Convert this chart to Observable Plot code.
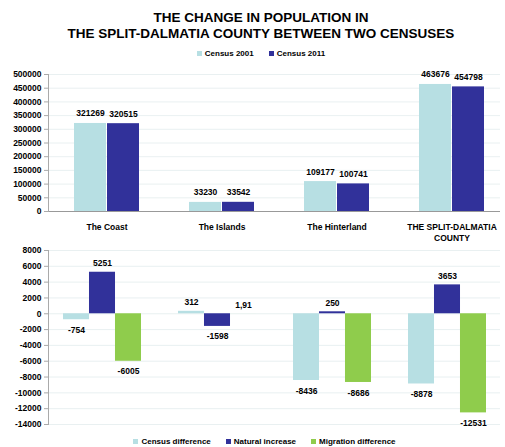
<!DOCTYPE html>
<html>
<head>
<meta charset="utf-8">
<script src="https://cdn.jsdelivr.net/npm/d3@7"></script>
<script src="https://cdn.jsdelivr.net/npm/@observablehq/plot@0.6"></script>
<style>
  html, body { margin: 0; padding: 0; background: #fff; }
  body { width: 505px; height: 447px; overflow: hidden; font-family: "Liberation Sans", Arial, sans-serif; color: #000; }
  #title { padding-top: 10px; padding-left: 17px; text-align: center; font-weight: bold; font-size: 13.5px; line-height: 16px; height: 34px; }
  .legend { display: flex; justify-content: center; align-items: center; gap: 15px; font-weight: bold; font-size: 8px; padding-left: 17px; }
  .legend span.sw { display: inline-block; width: 5px; height: 5px; margin-right: 3px; vertical-align: middle; }
  #legTop { height: 18px; }
  #legBottom { height: 12px; margin-top: 3px; padding-left: 24px; }
  svg { display: block; }
</style>
</head>
<body>
<div id="title">THE CHANGE IN POPULATION IN<br>THE SPLIT-DALMATIA COUNTY BETWEEN TWO CENSUSES</div>
<div id="legTop" class="legend"></div>
<div id="top"></div>
<div id="bottom"></div>
<div id="legBottom" class="legend"></div>
<script>
const regions = ["The Coast", "The Islands", "The Hinterland", "THE SPLIT-DALMATIA\nCOUNTY"];
const censusSeries = ["Census 2001", "Census 2011"];
const census2001 = [321269, 33230, 109177, 463676];
const census2011 = [320515, 33542, 100741, 454798];

const changeSeries = ["Census difference", "Natural increase", "Migration difference"];
const censusDifference = [-754, 312, -8436, -8878];
const naturalIncrease = [5251, -1598, 250, 3653];
const migrationDifference = [-6005, 1.91, -8686, -12531];
const changeLabels = [
  ["-754", "312", "-8436", "-8878"],
  ["5251", "-1598", "250", "3653"],
  ["-6005", "1,91", "-8686", "-12531"]
];

const topTicks = d3.range(0, 500001, 50000);
const bottomTicks = d3.range(-14000, 8001, 2000);

const colTop = ["#b7dfe3", "#31319a"];
const colBottom = ["#b7dfe3", "#31319a", "#8fcc4c"];

const font = "Liberation Sans, Arial, sans-serif";
const W = 505, ML = 48, MR = 5;

function legend(el, names, colors) {
  const d = document.getElementById(el);
  names.forEach((n, i) => {
    const item = document.createElement("div");
    item.innerHTML = `<span class="sw" style="background:${colors[i]}"></span>${n}`;
    d.appendChild(item);
  });
}
legend("legTop", censusSeries, colTop);
legend("legBottom", changeSeries, colBottom);

// grouped bars: each series is one slice of the region's band
function groupedMarks(values, labels, series, colors, bw, labelOpts) {
  const n = series.length;
  const marks = [];
  series.forEach((s, j) => {
    const data = regions.map((r, i) => ({region: r, value: values[j][i], label: labels[j][i]}));
    marks.push(Plot.barY(data, {
      x: "region", y: "value", fill: colors[j],
      insetLeft: bw * j / n, insetRight: bw * (n - 1 - j) / n
    }));
    const dx = bw * ((j + 0.5) / n - 0.5);
    marks.push(Plot.text(data.filter(d => d.value >= 0), {x: "region", y: "value", text: "label", dx, dy: labelOpts.up, lineAnchor: "bottom", fill: "#000"}));
    marks.push(Plot.text(data.filter(d => d.value < 0), {x: "region", y: "value", text: "label", dx, dy: labelOpts.down, lineAnchor: "top", fill: "#000"}));
  });
  return marks;
}

const topX = {domain: regions, paddingInner: 0.431, paddingOuter: 0.164, align: 0.632};
const topBW = Plot.scale({x: {type: "band", ...topX, range: [ML, W - MR]}}).bandwidth;

const topPlot = Plot.plot({
  width: W,
  height: 184,
  marginLeft: ML,
  marginRight: MR,
  marginTop: 12,
  marginBottom: 35,
  style: {fontFamily: font, fontSize: "8.5px", fontWeight: "bold", color: "#000", background: "#fff"},
  x: {type: "band", ...topX, axis: null},
  y: {domain: [0, 500000], axis: null},
  marks: [
    Plot.ruleY(topTicks.filter(d => d > 0), {stroke: "#e3ecee", strokeWidth: 0.8}),
    ...groupedMarks([census2001, census2011], [census2001.map(String), census2011.map(String)], censusSeries, colTop, topBW, {up: -7, down: 7}),
    Plot.ruleY([0], {stroke: "#999", strokeWidth: 1}),
    Plot.axisY({ticks: topTicks, tickFormat: d => String(d), tickSize: 4, tickPadding: 3, stroke: "#aaa", label: null, fontWeight: "bold"}),
    Plot.frame({anchor: "left", stroke: "#aaa"}),
    Plot.axisX({anchor: "bottom", tickSize: 0, tickPadding: 10, label: null, lineHeight: 1.35, fontWeight: "bold"})
  ]
});

const botX = {domain: regions, paddingInner: 0.322, paddingOuter: 0.126, align: 0.517};
const botBW = Plot.scale({x: {type: "band", ...botX, range: [ML, W - MR]}}).bandwidth;

const bottomPlot = Plot.plot({
  width: W,
  height: 186,
  marginLeft: ML,
  marginRight: MR,
  marginTop: 4,
  marginBottom: 8,
  style: {fontFamily: font, fontSize: "8.5px", fontWeight: "bold", color: "#000", background: "#fff"},
  x: {type: "band", ...botX, axis: null},
  y: {domain: [-14000, 8000], axis: null},
  marks: [
    Plot.ruleY(bottomTicks, {stroke: "#e3ecee", strokeWidth: 0.8}),
    ...groupedMarks([censusDifference, naturalIncrease, migrationDifference], changeLabels, changeSeries, colBottom, botBW, {up: -6, down: 7}),
    Plot.axisY({ticks: bottomTicks, tickFormat: d => String(d), tickSize: 4, tickPadding: 3, stroke: "#aaa", label: null, fontWeight: "bold"}),
    Plot.frame({anchor: "left", stroke: "#aaa"})
  ]
});

document.getElementById("top").appendChild(topPlot);
document.getElementById("bottom").appendChild(bottomPlot);
</script>
</body>
</html>
